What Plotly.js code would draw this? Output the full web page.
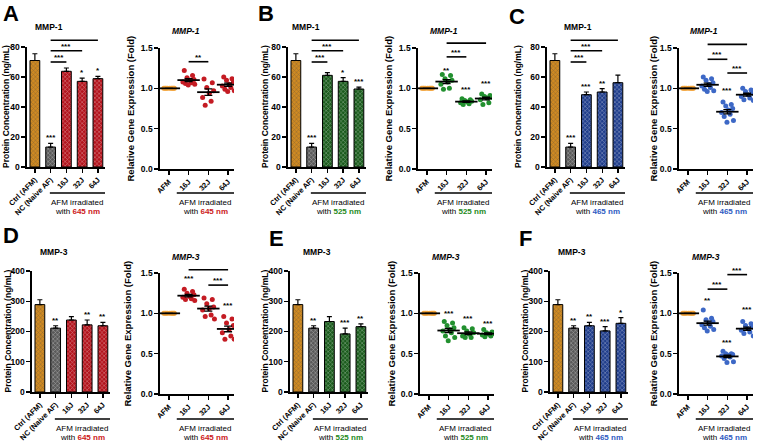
<!DOCTYPE html>
<html><head><meta charset="utf-8">
<script src="https://cdn.plot.ly/plotly-3.0.1.min.js"></script>
<style>html,body{margin:0;padding:0;background:#fff}#chart{width:759px;height:443px}</style>
</head><body><div id="chart"></div>
<script>
const W = 759, H = 443;

// ---------- categories / tick labels ----------
const proteinCats = ['Ctrl (AFM)', 'NC (Naive AF)', '16J', '32J', '64J'];
const geneCats = ['AFM', '16J', '32J', '64J'];

// ---------- protein concentration (ng/mL): mean and SEM ----------
const mmp1Prot645 = [71.0, 13.3, 63.8, 57.1, 58.9];
const mmp1Sem645  = [4.5, 2.5, 2.2, 2.2, 1.5];
const mmp1Prot525 = [71.0, 13.3, 61.1, 57.1, 52.0];
const mmp1Sem525  = [4.5, 2.5, 1.8, 2.5, 1.3];
const mmp1Prot465 = [71.0, 13.3, 48.2, 50.0, 56.2];
const mmp1Sem465  = [4.5, 2.5, 1.8, 2.2, 5.1];
const mmp3Prot645 = [289, 211, 238, 222, 219];
const mmp3Sem645  = [16, 8, 11, 16, 11];
const mmp3Prot525 = [289, 211, 233, 192, 216];
const mmp3Sem525  = [16, 8, 16, 19, 9];
const mmp3Prot465 = [289, 211, 219, 202, 227];
const mmp3Sem465  = [16, 8, 11, 14, 19];

// ---------- relative gene expression (fold), individual points ----------
const afmFold = [1, 1, 1, 1, 1, 1, 1, 1, 1];
const mmp1Gene645_16J = [1.22, 1.16, 1.13, 1.11, 1.10, 1.08, 1.07, 1.06, 1.05, 1.04];
const mmp1Gene645_32J = [1.115, 1.07, 1.01, 0.97, 0.94, 0.885, 0.84, 0.79];
const mmp1Gene645_64J = [1.14, 1.12, 1.10, 1.08, 1.05, 1.03, 1.01, 0.99, 0.97, 0.96];
const mmp1Gene525_16J = [1.17, 1.16, 1.12, 1.10, 1.08, 1.05, 1.00, 0.99];
const mmp1Gene525_32J = [0.87, 0.86, 0.85, 0.84, 0.83, 0.82, 0.81, 0.80];
const mmp1Gene525_64J = [0.93, 0.91, 0.90, 0.89, 0.88, 0.86, 0.82, 0.80];
const mmp1Gene465_16J = [1.14, 1.12, 1.10, 1.07, 1.05, 1.03, 1.01, 0.99, 0.97, 0.96];
const mmp1Gene465_32J = [0.83, 0.80, 0.78, 0.75, 0.73, 0.70, 0.68, 0.65, 0.60, 0.58];
const mmp1Gene465_64J = [1.00, 0.98, 0.96, 0.94, 0.92, 0.90, 0.88, 0.86, 0.85];
const mmp3Gene645_16J = [1.30, 1.27, 1.25, 1.23, 1.21, 1.20, 1.18, 1.17, 1.16];
const mmp3Gene645_32J = [1.19, 1.17, 1.12, 1.08, 1.06, 1.04, 0.98, 0.96, 0.93];
const mmp3Gene645_64J = [0.96, 0.93, 0.88, 0.85, 0.80, 0.76, 0.72, 0.68, 0.68];
const mmp3Gene525_16J = [0.90, 0.88, 0.85, 0.82, 0.80, 0.78, 0.76, 0.72, 0.70, 0.66];
const mmp3Gene525_32J = [0.82, 0.81, 0.78, 0.76, 0.74, 0.72, 0.70, 0.70];
const mmp3Gene525_64J = [0.80, 0.77, 0.76, 0.75, 0.74, 0.73, 0.72, 0.71];
const mmp3Gene465_16J = [1.04, 0.94, 0.92, 0.90, 0.88, 0.86, 0.84, 0.82, 0.80, 0.78];
const mmp3Gene465_32J = [0.53, 0.50, 0.50, 0.49, 0.48, 0.47, 0.46, 0.44, 0.40, 0.39];
const mmp3Gene465_64J = [0.90, 0.87, 0.85, 0.83, 0.81, 0.79, 0.77, 0.75, 0.72];

// ---------- significance labels ----------
const protStarsA = ['', '***', '', '*', '*'];
const protStarsB = ['', '***', '', '*', '***'];
const protStarsC = ['', '***', '***', '**', ''];
const protStarsD = ['', '**', '', '**', '**'];
const protStarsE = ['', '**', '', '***', '**'];
const protStarsF = ['', '**', '**', '***', '*'];
const protBrackets = [[1, 2, '***', 70], [1, 3, '***', 77.5], [1, 4, '***', 84.5]];
const geneStarsA = [];
const geneStarsB = [[1, '**', 1.22], [2, '***', 0.99], [3, '***', 1.06]];
const geneStarsC = [[2, '***', 0.975]];
const geneStarsD = [[1, '***', 1.43], [3, '***', 1.095]];
const geneStarsE = [[1, '***', 1.0], [2, '***', 0.93], [3, '***', 0.88]];
const geneStarsF = [[1, '**', 1.16], [2, '***', 0.64], [3, '***', 1.05]];
const geneBracketsA = [[1, 2, '**', 1.33]];
const geneBracketsB = [[1, 2, '***', 1.39], [1, 3, '***', 1.56]];
const geneBracketsC = [[1, 2, '***', 1.36], [2, 3, '***', 1.19], [1, 3, '**', 1.545]];
const geneBracketsD = [[2, 3, '***', 1.35], [1, 3, '***', 1.54]];
const geneBracketsE = [];
const geneBracketsF = [[1, 2, '***', 1.30], [2, 3, '***', 1.48]];

// ---------- styles ----------
const FONT = 'Arial, "Liberation Sans", sans-serif';
const ORANGE = '#cf8a22', GRAY = '#595959';
const BARCOL = {'645 nm': '#b3131c', '525 nm': '#1b5c1d', '465 nm': '#203e8c'};
const DOTCOL = {'645 nm': '#c41b23', '525 nm': '#22902f', '465 nm': '#3d68c6'};
const WLCOL  = {'645 nm': '#cc1820', '525 nm': '#1e8a22', '465 nm': '#2f5bc2'};
const jitter = [-0.22, 0.2, -0.08, 0.27, 0.05, -0.29, 0.14, -0.16, 0.31, -0.02, 0.1, -0.25];

// box: [left, right, top, bottom] px; yt: x of the y-axis title; title: [x, y] of panel title
const panels = [
  {letter:'A', kind:'bar',  wl:'645 nm', gene:'MMP-1', vals:mmp1Prot645, sem:mmp1Sem645, stars:protStarsA, brackets:protBrackets,
   box:[27,105,47,167], yr:[0,80], dt:20, yt:6, title:[49,27], letterPos:[11,14]},
  {letter:'', kind:'dot', wl:'645 nm', gene:'MMP-1', groups:[afmFold, mmp1Gene645_16J, mmp1Gene645_32J, mmp1Gene645_64J],
   stars:geneStarsA, brackets:geneBracketsA, box:[160,234,48,169], yr:[0,1.5], dt:0.5, yt:130, title:[186,31]},
  {letter:'B', kind:'bar',  wl:'525 nm', gene:'MMP-1', vals:mmp1Prot525, sem:mmp1Sem525, stars:protStarsB, brackets:protBrackets,
   box:[288,366,47,167], yr:[0,80], dt:20, yt:265, title:[306,27], letterPos:[266,14]},
  {letter:'', kind:'dot', wl:'525 nm', gene:'MMP-1', groups:[afmFold, mmp1Gene525_16J, mmp1Gene525_32J, mmp1Gene525_64J],
   stars:geneStarsB, brackets:geneBracketsB, box:[418,492,48,169], yr:[0,1.5], dt:0.5, yt:388, title:[444,31]},
  {letter:'C', kind:'bar',  wl:'465 nm', gene:'MMP-1', vals:mmp1Prot465, sem:mmp1Sem465, stars:protStarsC, brackets:protBrackets,
   box:[547,625,47,167], yr:[0,80], dt:20, yt:518, title:[578,27], letterPos:[517,16]},
  {letter:'', kind:'dot', wl:'465 nm', gene:'MMP-1', groups:[afmFold, mmp1Gene465_16J, mmp1Gene465_32J, mmp1Gene465_64J],
   stars:geneStarsC, brackets:geneBracketsC, box:[679,753,48,169], yr:[0,1.5], dt:0.5, yt:653, title:[704,31]},
  {letter:'D', kind:'bar',  wl:'645 nm', gene:'MMP-3', vals:mmp3Prot645, sem:mmp3Sem645, stars:protStarsD, brackets:[],
   box:[32,110,271,392], yr:[0,400], dt:100, yt:7, title:[54,252], letterPos:[11,236]},
  {letter:'', kind:'dot', wl:'645 nm', gene:'MMP-3', groups:[afmFold, mmp3Gene645_16J, mmp3Gene645_32J, mmp3Gene645_64J],
   stars:geneStarsD, brackets:geneBracketsD, box:[160,234,273,394], yr:[0,1.5], dt:0.5, yt:127, title:[186,257]},
  {letter:'E', kind:'bar',  wl:'525 nm', gene:'MMP-3', vals:mmp3Prot525, sem:mmp3Sem525, stars:protStarsE, brackets:[],
   box:[290,368,271,392], yr:[0,400], dt:100, yt:264, title:[317,252], letterPos:[276,239]},
  {letter:'', kind:'dot', wl:'525 nm', gene:'MMP-3', groups:[afmFold, mmp3Gene525_16J, mmp3Gene525_32J, mmp3Gene525_64J],
   stars:geneStarsE, brackets:geneBracketsE, box:[420,494,273,394], yr:[0,1.5], dt:0.5, yt:391, title:[446,257]},
  {letter:'F', kind:'bar',  wl:'465 nm', gene:'MMP-3', vals:mmp3Prot465, sem:mmp3Sem465, stars:protStarsF, brackets:[],
   box:[550,628,271,392], yr:[0,400], dt:100, yt:524, title:[572,252], letterPos:[525,239]},
  {letter:'', kind:'dot', wl:'465 nm', gene:'MMP-3', groups:[afmFold, mmp3Gene465_16J, mmp3Gene465_32J, mmp3Gene465_64J],
   stars:geneStarsF, brackets:geneBracketsF, box:[679,753,273,394], yr:[0,1.5], dt:0.5, yt:653, title:[706,257]}
];

const traces = [], shapes = [], annotations = [];
const layout = {
  width: W, height: H, margin: {l:0, r:0, t:0, b:0},
  paper_bgcolor: '#fff', plot_bgcolor: 'rgba(0,0,0,0)', showlegend: false,
  font: {family: FONT, color: '#000'}
};
const px = v => v / W, py = v => 1 - v / H;
const mean = a => a.reduce((s, v) => s + v, 0) / a.length;
const sem = a => { const m = mean(a); return Math.sqrt(a.reduce((s, v) => s + (v - m) ** 2, 0) / (a.length - 1) / a.length); };
const txt = (o) => Object.assign({showarrow: false, xanchor: 'center', yanchor: 'middle'}, o);

panels.forEach((p, i) => {
  const k = i + 1, suf = k === 1 ? '' : String(k);
  const xa = 'x' + suf, ya = 'y' + suf;
  const isBar = p.kind === 'bar';
  const xr = isBar ? [-0.5, 4.45] : [-0.45, 3.3];
  const cats = isBar ? proteinCats : geneCats;
  const [l, r, t, b] = p.box;
  const ydom = v => (v - p.yr[0]) / (p.yr[1] - p.yr[0]);

  layout['xaxis' + suf] = {
    domain: [px(l), px(r)], range: xr, anchor: ya,
    tickmode: 'array', tickvals: cats.map((c, j) => j), ticktext: cats, tickangle: -45,
    ticks: 'outside', ticklen: 4, tickwidth: 1.3, tickcolor: '#000',
    showline: true, linewidth: 1.6, linecolor: '#000', showgrid: false, zeroline: false,
    tickfont: {family: FONT, size: 7.5, weight: 'bold', color: '#000'}, fixedrange: true
  };
  layout['yaxis' + suf] = {
    domain: [py(b), py(t)], range: p.yr, anchor: xa, dtick: p.dt, tick0: 0,
    tickformat: isBar ? 'd' : '.1f',
    ticks: 'outside', ticklen: 4, tickwidth: 1.3, tickcolor: '#000',
    showline: true, linewidth: 1.6, linecolor: '#000', showgrid: false, zeroline: false,
    tickfont: {family: FONT, size: 8.5, weight: 'bold', color: '#000'}, fixedrange: true
  };

  if (isBar) {
    traces.push({
      type: 'bar', x: cats.map((c, j) => j), y: p.vals, width: 0.62, xaxis: xa, yaxis: ya,
      marker: {
        color: [ORANGE, GRAY, BARCOL[p.wl], BARCOL[p.wl], BARCOL[p.wl]],
        line: {color: '#000', width: 1},
        pattern: {shape: 'x', size: 3, solidity: 0.3, fgcolor: 'rgba(0,0,0,0.55)', fillmode: 'overlay'}
      },
      error_y: {type: 'data', symmetric: false, array: p.sem, arrayminus: p.sem.map(() => 0),
                color: '#000', thickness: 1.2, width: 2.5},
      hoverinfo: 'skip'
    });
    p.stars.forEach((s, j) => {
      if (!s) return;
      annotations.push(txt({xref: xa, yref: ya, x: j, y: p.vals[j] + p.sem[j], text: s,
        yanchor: 'bottom', yshift: -1, font: {family: FONT, size: 8, weight: 'bold'}}));
    });
    annotations.push(txt({xref: 'paper', yref: 'paper', x: px(p.yt), y: py((t + b) / 2), textangle: -90,
      text: '<b>Protein Concentration (ng/mL)</b>', font: {family: FONT, size: 8.5}}));
    annotations.push(txt({xref: 'paper', yref: 'paper', x: px(p.title[0]), y: py(p.title[1]), text: '<b>' + p.gene + '</b>',
      font: {family: FONT, size: 8.5}}));
  } else {
    const dotCol = DOTCOL[p.wl];
    p.groups.forEach((g, j) => {
      traces.push({
        type: 'scatter', mode: 'markers', xaxis: xa, yaxis: ya, hoverinfo: 'skip',
        x: g.map((v, n) => j + jitter[n % jitter.length] * (j === 0 ? 0.9 : 1)), y: g,
        marker: {size: 5, color: j === 0 ? '#f2a33a' : dotCol, line: {width: 0}}
      });
    });
    traces.push({
      type: 'scatter', mode: 'markers', xaxis: xa, yaxis: ya, hoverinfo: 'skip',
      x: p.groups.map((g, j) => j), y: p.groups.map(mean),
      marker: {symbol: 'line-ew', size: 16, color: '#000', line: {color: '#000', width: 1.8}},
      error_y: {type: 'data', array: p.groups.map(sem), color: '#000', thickness: 1.3, width: 4}
    });
    p.stars.forEach(s => {
      annotations.push(txt({xref: xa, yref: ya, x: s[0], y: s[2], text: s[1],
        font: {family: FONT, size: 8, weight: 'bold'}}));
    });
    annotations.push(txt({xref: 'paper', yref: 'paper', x: px(p.yt), y: py((t + b) / 2), textangle: -90,
      text: '<b>Relative Gene Expression (Fold)</b>', font: {family: FONT, size: 9.5}}));
    annotations.push(txt({xref: 'paper', yref: 'paper', x: px(p.title[0]), y: py(p.title[1]), text: '<b><i>' + p.gene + '</i></b>',
      font: {family: FONT, size: 8.5}}));
  }

  p.brackets.forEach(br => {
    shapes.push({type: 'line', xref: xa, yref: ya + ' domain', x0: br[0], x1: br[1], y0: ydom(br[3]), y1: ydom(br[3]),
      line: {color: '#000', width: 1.6}});
    annotations.push(txt({xref: xa, yref: ya, x: (br[0] + br[1]) / 2, y: br[3], text: br[2],
      yanchor: 'bottom', yshift: -2, font: {family: FONT, size: 8, weight: 'bold'}}));
  });

  const rowTop = t < 100;
  const lineY = rowTop ? 193 : 419;
  const x0 = isBar ? 0.95 : 0.4, x1 = isBar ? 4.45 : 3.3;
  shapes.push({type: 'line', xref: xa, yref: 'paper', x0: x0, x1: x1, y0: py(lineY), y1: py(lineY),
    line: {color: '#000', width: 1.3}});
  annotations.push(txt({xref: xa, yref: 'paper', x: (x0 + x1) / 2, y: py(lineY + 9.5), text: 'AFM irradiated',
    font: {family: FONT, size: 8}}));
  annotations.push(txt({xref: xa, yref: 'paper', x: (x0 + x1) / 2, y: py(lineY + 18.5),
    text: 'with <b><span style="color:' + WLCOL[p.wl] + '">' + p.wl + '</span></b>',
    font: {family: FONT, size: 8}}));

  if (p.letter) {
    annotations.push(txt({xref: 'paper', yref: 'paper', x: px(p.letterPos[0]), y: py(p.letterPos[1]), text: '<b>' + p.letter + '</b>',
      font: {family: FONT, size: 22}}));
  }
});

layout.shapes = shapes;
layout.annotations = annotations;
Plotly.newPlot('chart', traces, layout, {displayModeBar: false, staticPlot: true});
</script>
</body></html>
